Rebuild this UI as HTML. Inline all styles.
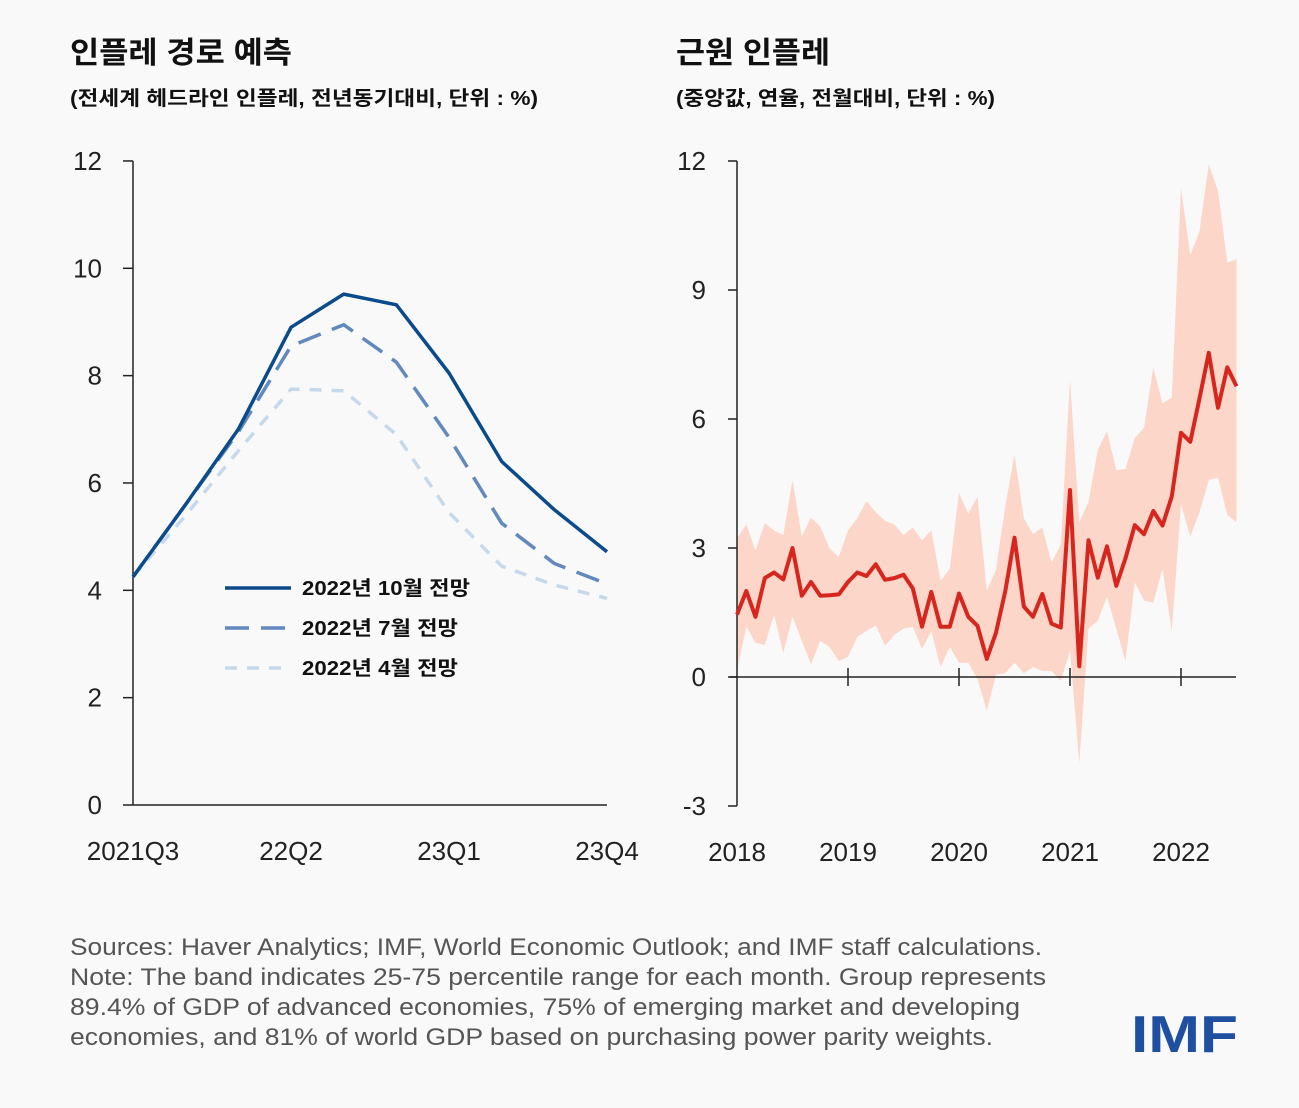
<!DOCTYPE html>
<html><head><meta charset="utf-8">
<style>
html,body{margin:0;padding:0;background:#f9f9f9;}
body{width:1299px;height:1103px;overflow:hidden;font-family:"Liberation Sans","Noto Sans CJK KR",sans-serif;}
</style></head>
<body>
<svg id="chart" width="1299" height="1103" xmlns="http://www.w3.org/2000/svg" style="font-family:'Liberation Sans','Noto Sans CJK KR',sans-serif">
<text x="70" y="63" font-size="30" font-weight="bold" fill="#111" textLength="222" lengthAdjust="spacingAndGlyphs">인플레 경로 예측</text>
<text x="70" y="105" font-size="20" font-weight="bold" fill="#111" textLength="468" lengthAdjust="spacingAndGlyphs">(전세계 헤드라인 인플레, 전년동기대비, 단위 : %)</text>
<text x="676" y="63" font-size="30" font-weight="bold" fill="#111" textLength="154" lengthAdjust="spacingAndGlyphs">근원 인플레</text>
<text x="676" y="105" font-size="20" font-weight="bold" fill="#111" textLength="319" lengthAdjust="spacingAndGlyphs">(중앙값, 연율, 전월대비, 단위 : %)</text>
<g id="left"></g>
<g id="right"></g>
<g fill="#555" font-size="24">
<text x="70" y="955" textLength="972" lengthAdjust="spacingAndGlyphs">Sources: Haver Analytics; IMF, World Economic Outlook; and IMF staff calculations.</text>
<text x="70" y="985" textLength="976" lengthAdjust="spacingAndGlyphs">Note: The band indicates 25-75 percentile range for each month. Group represents</text>
<text x="70" y="1015" textLength="950" lengthAdjust="spacingAndGlyphs">89.4% of GDP of advanced economies, 75% of emerging market and developing</text>
<text x="70" y="1045" textLength="923" lengthAdjust="spacingAndGlyphs">economies, and 81% of world GDP based on purchasing power parity weights.</text>
</g>
<text x="1131" y="1052" font-size="52" font-weight="bold" fill="#1f4fa0" textLength="107" lengthAdjust="spacingAndGlyphs">IMF</text>
</svg>
<script>
const NS="http://www.w3.org/2000/svg";
const quarters=["2021Q3","21Q4","22Q1","22Q2","22Q3","22Q4","23Q1","23Q2","23Q3","23Q4"];
const qLabels=["2021Q3","22Q2","23Q1","23Q4"];
const octF=[4.25,5.6,7.0,8.9,9.52,9.32,8.05,6.4,5.5,4.72];
const julF=[4.25,5.6,6.95,8.55,8.95,8.25,6.85,5.25,4.5,4.12];
const aprF=[4.25,5.4,6.6,7.75,7.72,6.9,5.45,4.45,4.1,3.85];
const leftTicks=[0,2,4,6,8,10,12];
const coreMedian=[1.45,2.0,1.4,2.3,2.43,2.27,3.0,1.89,2.21,1.89,1.9,1.92,2.21,2.43,2.35,2.62,2.26,2.3,2.38,2.06,1.17,1.98,1.17,1.17,1.94,1.4,1.19,0.42,1.03,2.0,3.24,1.64,1.4,1.93,1.24,1.15,4.35,0.25,3.18,2.31,3.04,2.12,2.76,3.53,3.32,3.86,3.52,4.2,5.68,5.47,6.48,7.54,6.26,7.2,6.76];
const coreUpper=[3.22,3.55,2.94,3.58,3.41,3.3,4.58,3.27,3.71,3.5,2.99,2.79,3.41,3.69,4.09,3.83,3.63,3.55,3.3,3.48,3.18,3.41,2.24,2.52,4.28,3.8,4.19,2.0,2.5,3.97,5.17,3.69,3.32,3.48,2.66,3.08,6.92,3.6,4.07,5.28,5.72,4.81,4.84,5.56,5.79,7.2,6.36,6.5,11.36,9.81,10.37,11.92,11.31,9.63,9.72];
const coreLower=[0.14,1.17,0.79,0.75,1.45,0.56,1.4,0.84,0.3,0.84,0.7,0.37,0.47,0.93,1.07,1.2,0.73,0.98,1.12,1.17,0.65,1.07,0.23,0.7,0.33,0.33,-0.05,-0.78,0.05,0.09,0.33,0.09,0.23,0.14,0.14,-0.09,0.61,-2.0,1.12,1.31,1.87,1.12,0.37,2.2,1.78,1.73,2.52,1.07,4.02,3.27,3.83,4.58,4.64,3.77,3.6];
const years=["2018","2019","2020","2021","2022"];
const rightTicks=[-3,0,3,6,9,12];

function el(tag,attrs,parent,text){const e=document.createElementNS(NS,tag);for(const k in attrs)e.setAttribute(k,attrs[k]);if(text!==undefined)e.textContent=text;parent.appendChild(e);return e;}

// LEFT
const L=document.getElementById('left');
const lx=i=>133+i*52.67, ly=v=>805-v*53.67;
let e=el('line',{x1:133,y1:161,x2:133,y2:805,stroke:'#222','stroke-width':1.5},L);


e=el('line',{x1:133,y1:805,x2:607,y2:805,stroke:'#222','stroke-width':1.5},L);


leftTicks.forEach(t=>{
  el('line',{x1:123,y1:ly(t),x2:133,y2:ly(t),stroke:'#222','stroke-width':1.5},L);
  const tx=el('text',{x:102,y:ly(t)+9,'font-size':26,fill:'#222','text-anchor':'end'},L,String(t));
  
  
});
qLabels.forEach(q=>{
  const i=quarters.indexOf(q);
  const tx=el('text',{x:lx(i),y:860,'font-size':26,fill:'#222','text-anchor':'middle'},L,q);
  
  
});
function lpath(arr,color,dash,w,name){
  const d=arr.map((v,i)=>(i?'L':'M')+lx(i).toFixed(1)+' '+ly(v).toFixed(1)).join(' ');
  const p=el('path',{d:d,fill:'none',stroke:color,'stroke-width':w,'stroke-dasharray':dash,'stroke-linejoin':'round'},L);
  
  
}
lpath(aprF,'#c6d9ec','12 10',3.5,'april-forecast-line');
lpath(julF,'#6189bd','24 12',3.5,'july-forecast-line');
lpath(octF,'#0b4a8b','none',3.5,'october-forecast-line');
[['2022년 10월 전망','#0b4a8b','none',588,168],['2022년 7월 전망','#6189bd','24 12',628,156],['2022년 4월 전망','#c6d9ec','12 10',668,156]].forEach(r=>{
  const g=el('g',{},L);
  
  
  el('line',{x1:225,y1:r[3],x2:291,y2:r[3],stroke:r[1],'stroke-width':3.5,'stroke-dasharray':r[2]},g);
  el('text',{x:302,y:r[3]+7,'font-size':20,'font-weight':'bold',fill:'#111',textLength:r[4],lengthAdjust:'spacingAndGlyphs'},g,r[0]);
});

// RIGHT
const R=document.getElementById('right');
const rx=i=>737+i*9.25, ry=v=>677-v*43;
let band='M'+coreUpper.map((v,i)=>rx(i).toFixed(1)+' '+ry(v).toFixed(1)).join(' L ');
for(let i=coreLower.length-1;i>=0;i--)band+=' L '+rx(i).toFixed(1)+' '+ry(coreLower[i]).toFixed(1);
e=el('path',{d:band+' Z',fill:'#fbd6c9'},R);


e=el('line',{x1:737,y1:161,x2:737,y2:806,stroke:'#222','stroke-width':1.5},R);


e=el('line',{x1:730,y1:ry(0),x2:1236,y2:ry(0),stroke:'#222','stroke-width':1.5},R);


rightTicks.forEach(t=>{
  el('line',{x1:728,y1:ry(t),x2:737,y2:ry(t),stroke:'#222','stroke-width':1.5},R);
  const tx=el('text',{x:706,y:ry(t)+9,'font-size':26,fill:'#222','text-anchor':'end'},R,String(t));
  
  
});
years.forEach((y,k)=>{
  const x=rx(k*12);
  if(k>0)el('line',{x1:x,y1:ry(0)-9,x2:x,y2:ry(0)+9,stroke:'#222','stroke-width':1.5},R);
  const tx=el('text',{x:x,y:861,'font-size':26,fill:'#222','text-anchor':'middle'},R,y);
  
  
});
e=el('path',{d:coreMedian.map((v,i)=>(i?'L':'M')+rx(i).toFixed(1)+' '+ry(v).toFixed(1)).join(' '),fill:'none',stroke:'#d7261e','stroke-width':4,'stroke-linejoin':'round'},R);


</script>
</body></html>
